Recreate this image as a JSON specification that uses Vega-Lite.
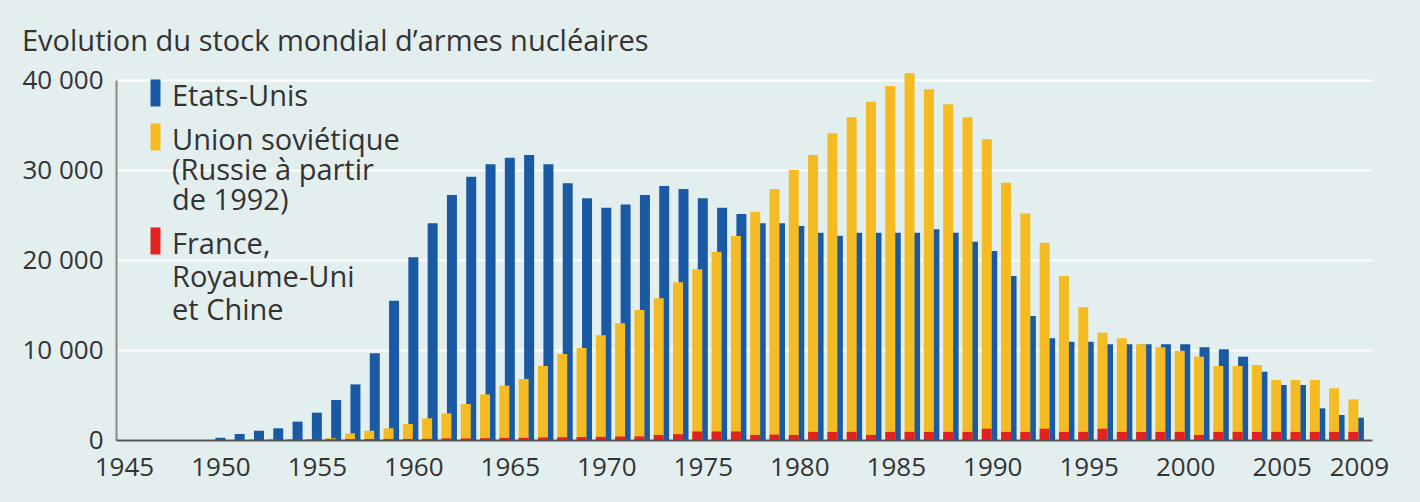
{
  "$schema": "https://vega.github.io/schema/vega-lite/v6.json",
  "width": 1256,
  "height": 360,
  "autosize": {"type": "none"},
  "padding": {"left": 116, "top": 80, "right": 48, "bottom": 62},
  "background": "#e3efef",
  "title": {
    "text": "Evolution du stock mondial d’armes nucléaires",
    "anchor": "start",
    "frame": "group",
    "dx": -94,
    "offset": 10,
    "font": "Open Sans",
    "fontSize": 29,
    "fontWeight": "normal",
    "color": "#333333"
  },
  "config": {
    "view": {"stroke": null},
    "font": "Open Sans"
  },
  "data": {
    "values": [
      {"year": 1945, "us": 0, "ussr": 0, "other": 0},
      {"year": 1946, "us": 0, "ussr": 0, "other": 0},
      {"year": 1947, "us": 0, "ussr": 0, "other": 0},
      {"year": 1948, "us": 0, "ussr": 0, "other": 0},
      {"year": 1949, "us": 0, "ussr": 0, "other": 0},
      {"year": 1950, "us": 250, "ussr": 0, "other": 0},
      {"year": 1951, "us": 670, "ussr": 0, "other": 0},
      {"year": 1952, "us": 1030, "ussr": 0, "other": 30},
      {"year": 1953, "us": 1300, "ussr": 0, "other": 50},
      {"year": 1954, "us": 2040, "ussr": 0, "other": 60},
      {"year": 1955, "us": 3040, "ussr": 0, "other": 70},
      {"year": 1956, "us": 4440, "ussr": 200, "other": 80},
      {"year": 1957, "us": 6180, "ussr": 740, "other": 100},
      {"year": 1958, "us": 9630, "ussr": 1030, "other": 110},
      {"year": 1959, "us": 15480, "ussr": 1300, "other": 120},
      {"year": 1960, "us": 20300, "ussr": 1780, "other": 120},
      {"year": 1961, "us": 24070, "ussr": 2410, "other": 130},
      {"year": 1962, "us": 27220, "ussr": 2960, "other": 180},
      {"year": 1963, "us": 29260, "ussr": 4000, "other": 180},
      {"year": 1964, "us": 30630, "ussr": 5070, "other": 200},
      {"year": 1965, "us": 31370, "ussr": 6040, "other": 230},
      {"year": 1966, "us": 31670, "ussr": 6780, "other": 240},
      {"year": 1967, "us": 30630, "ussr": 8220, "other": 280},
      {"year": 1968, "us": 28520, "ussr": 9560, "other": 300},
      {"year": 1969, "us": 26850, "ussr": 10220, "other": 330},
      {"year": 1970, "us": 25810, "ussr": 11630, "other": 350},
      {"year": 1971, "us": 26180, "ussr": 12960, "other": 380},
      {"year": 1972, "us": 27220, "ussr": 14440, "other": 400},
      {"year": 1973, "us": 28220, "ussr": 15740, "other": 560},
      {"year": 1974, "us": 27890, "ussr": 17520, "other": 650},
      {"year": 1975, "us": 26850, "ussr": 18960, "other": 950},
      {"year": 1976, "us": 25810, "ussr": 20920, "other": 950},
      {"year": 1977, "us": 25110, "ussr": 22670, "other": 950},
      {"year": 1978, "us": 24070, "ussr": 25370, "other": 560},
      {"year": 1979, "us": 24070, "ussr": 27890, "other": 600},
      {"year": 1980, "us": 23780, "ussr": 30000, "other": 560},
      {"year": 1981, "us": 23040, "ussr": 31670, "other": 900},
      {"year": 1982, "us": 22700, "ussr": 34070, "other": 900},
      {"year": 1983, "us": 23040, "ussr": 35850, "other": 900},
      {"year": 1984, "us": 23040, "ussr": 37590, "other": 560},
      {"year": 1985, "us": 23040, "ussr": 39330, "other": 900},
      {"year": 1986, "us": 23040, "ussr": 40740, "other": 900},
      {"year": 1987, "us": 23410, "ussr": 38960, "other": 900},
      {"year": 1988, "us": 23040, "ussr": 37300, "other": 900},
      {"year": 1989, "us": 22040, "ussr": 35850, "other": 900},
      {"year": 1990, "us": 21000, "ussr": 33410, "other": 1250},
      {"year": 1991, "us": 18220, "ussr": 28590, "other": 900},
      {"year": 1992, "us": 13780, "ussr": 25180, "other": 900},
      {"year": 1993, "us": 11300, "ussr": 21930, "other": 1250},
      {"year": 1994, "us": 10930, "ussr": 18220, "other": 900},
      {"year": 1995, "us": 10930, "ussr": 14740, "other": 900},
      {"year": 1996, "us": 10630, "ussr": 11930, "other": 1250},
      {"year": 1997, "us": 10630, "ussr": 11300, "other": 900},
      {"year": 1998, "us": 10630, "ussr": 10630, "other": 900},
      {"year": 1999, "us": 10630, "ussr": 10300, "other": 900},
      {"year": 2000, "us": 10630, "ussr": 9930, "other": 900},
      {"year": 2001, "us": 10300, "ussr": 9260, "other": 560},
      {"year": 2002, "us": 10070, "ussr": 8220, "other": 900},
      {"year": 2003, "us": 9260, "ussr": 8220, "other": 900},
      {"year": 2004, "us": 7590, "ussr": 8330, "other": 900},
      {"year": 2005, "us": 6110, "ussr": 6670, "other": 900},
      {"year": 2006, "us": 6110, "ussr": 6670, "other": 900},
      {"year": 2007, "us": 3520, "ussr": 6670, "other": 900},
      {"year": 2008, "us": 2780, "ussr": 5740, "other": 900},
      {"year": 2009, "us": 2480, "ussr": 4520, "other": 900}
    ]
  },
  "encoding": {
    "x": {
      "field": "year",
      "type": "quantitative",
      "scale": {"domain": [1944.85, 2009.42], "nice": false, "zero": false},
      "axis": {
        "title": null,
        "values": [1945, 1950, 1955, 1960, 1965, 1970, 1975, 1980, 1985, 1990, 1995, 2000, 2005, 2009],
        "format": "d",
        "grid": false,
        "ticks": false,
        "labelFont": "Open Sans",
        "labelFontSize": 26,
        "labelColor": "#333333",
        "labelPadding": 14,
        "labelFlush": false,
        "labelOverlap": false,
        "domainColor": "#555555",
        "domainWidth": 2,
        "zindex": 1
      }
    }
  },
  "layer": [
    {
      "mark": {"type": "bar", "orient": "vertical", "width": 10},
      "encoding": {
        "y": {
          "field": "us",
          "type": "quantitative",
          "scale": {"domain": [0, 40000], "nice": false},
          "axis": {
            "title": null,
            "values": [0, 10000, 20000, 30000, 40000],
            "labelExpr": "replace(format(datum.value, ',d'), ',', ' ')",
            "grid": true,
            "gridColor": "#ffffff",
            "gridWidth": 2,
            "ticks": false,
            "labelFont": "Open Sans",
            "labelFontSize": 26,
            "labelColor": "#333333",
            "labelPadding": 13,
            "domainColor": "#888888",
            "domainWidth": 2,
            "zindex": 0
          }
        },
        "color": {
          "datum": "Etats-Unis",
          "type": "nominal",
          "scale": {
            "domain": ["Etats-Unis", "Union soviétique", "France, Royaume-Uni et Chine"],
            "range": ["#1a5aa5", "#f4bb22", "#e32322"]
          },
          "legend": {
            "title": null,
            "orient": "none",
            "legendX": 25,
            "legendY": 11,
            "padding": 0,
            "rowPadding": 11,
            "symbolType": "M-0.37,-1.93L0.37,-1.93L0.37,0.07L-0.37,0.07Z",
            "symbolSize": 729,
            "symbolStrokeWidth": 0,
            "symbolOpacity": 1,
            "labelFont": "Open Sans",
            "labelFontSize": 29,
            "labelColor": "#333333",
            "labelBaseline": "alphabetic",
            "labelLimit": 0,
            "labelOffset": 2,
            "labelExpr": "datum.label == 'Union soviétique' ? ['Union soviétique', '(Russie à partir', 'de 1992)'] : datum.label == 'Etats-Unis' ? 'Etats-Unis' : ['France,', 'Royaume-Uni', 'et Chine']",
            "encode": {"labels": {"update": {"lineHeight": {"signal": "datum.label == 'Union soviétique' ? 30 : 33"}}}}
          }
        }
      }
    },
    {
      "mark": {"type": "bar", "orient": "vertical", "width": 10, "xOffset": -5.5},
      "encoding": {
        "y": {"field": "ussr", "type": "quantitative"},
        "color": {"datum": "Union soviétique", "type": "nominal"}
      }
    },
    {
      "mark": {"type": "bar", "orient": "vertical", "width": 10, "xOffset": -5.5},
      "encoding": {
        "y": {"field": "other", "type": "quantitative"},
        "color": {"datum": "France, Royaume-Uni et Chine", "type": "nominal"}
      }
    }
  ]
}
